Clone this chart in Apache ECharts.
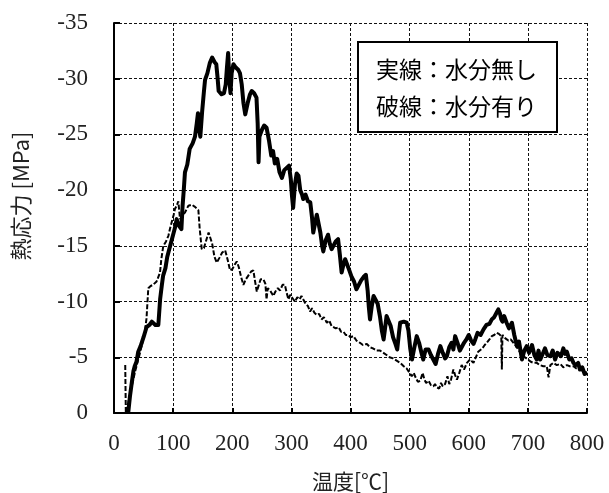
<!DOCTYPE html>
<html><head><meta charset="utf-8">
<script src="https://cdn.jsdelivr.net/npm/echarts@6/dist/echarts.min.js"></script>
<style>html,body{margin:0;padding:0;background:#fff}#c{width:609px;height:493px}</style>
</head><body><div id="c"></div>
<script>
// 実線：水分無し (temperature °C, thermal stress MPa)
const dryTemp = [24,27,30,33,35,38,41,45,50,55,60,64,70,75,77,78,81,83,87,90,92,96,100,103,106,110,114,116,118,120,124,128,133,137,140,142,144,146,149,152,154,158,162,166,170,173,175,177,182,186,189,191,193,195,197,199,202,206,210,213,216,219,222,226,230,233,237,241,243,244.5,246,250,254,258,262,266,269,272,276,280,284,288,292,296,299,301,303,306,309,312,315,318,320,324,328,332,335,337,340,343,346,349,352,354,358,362,365,368,371,375,379,382,385,388,391,394,398,402,406,410,414,418,422,426,429,431,433,436,439,442,446,450,453,456,458,461,464,468,472,476,479,482,484,490,495,498,501,504,508,512,516,520,523,527,532,536,540,544,548,552,556,560,563,567,571,574,577,581,585,588,592,596,600,604,608,611,615,620,625,630,635,639,643,647,650,653,655,657,660,664,668,673,677,681.5,685,690,694,698,702,707,711,715,718,721,725,729,733,738,742,746,750,752,756,760,763,766,770,774,777,781,785,788,792,796,800];
const dryStress = [0,-1.5,-2.7,-3.8,-4.2,-4.6,-5.5,-6.0,-6.8,-7.7,-7.9,-8.2,-7.9,-7.9,-8.0,-10.2,-11.5,-12.3,-13.0,-14.0,-14.4,-15.2,-16.0,-16.6,-17.4,-16.8,-16.5,-18.6,-20.0,-21.6,-22.3,-23.7,-24.2,-24.8,-26.0,-26.9,-25.5,-24.8,-27.0,-28.8,-29.9,-30.5,-31.4,-31.9,-31.5,-31.3,-30.2,-28.9,-28.6,-28.7,-29.5,-31.0,-32.3,-30.0,-28.7,-30.5,-31.3,-31.0,-30.8,-30.5,-29.5,-27.8,-26.8,-27.8,-28.6,-28.9,-28.7,-28.3,-26.0,-22.5,-24.8,-25.4,-25.8,-25.6,-24.5,-23.1,-23.5,-22.4,-22.8,-21.6,-21.1,-21.8,-22.0,-22.2,-21.0,-19.5,-18.4,-20.5,-21.5,-21.3,-20.0,-19.6,-19.2,-19.6,-19.0,-18.9,-17.5,-16.2,-17.0,-17.8,-17.7,-16.2,-15.0,-14.5,-15.5,-16.0,-15.2,-14.7,-14.7,-15.4,-15.6,-14.2,-12.6,-13.3,-13.8,-13.9,-12.8,-12.2,-11.8,-11.1,-11.5,-11.9,-12.2,-12.4,-11.0,-9.5,-8.4,-9.6,-10.5,-10.6,-9.8,-8.6,-7.4,-6.6,-7.4,-8.7,-8.7,-7.8,-6.8,-6.2,-5.7,-7.2,-8.1,-8.2,-8.1,-7.4,-5.8,-4.8,-5.9,-6.9,-6.3,-5.4,-4.8,-5.7,-5.7,-5.2,-4.8,-4.4,-5.3,-6.0,-5.4,-4.9,-5.1,-5.9,-6.3,-5.7,-6.9,-6.3,-5.6,-5.5,-6.3,-6.6,-7.0,-6.5,-6.2,-6.6,-7.2,-7.0,-7.5,-7.9,-8.0,-8.4,-8.6,-9.0,-9.3,-8.9,-8.4,-8.2,-8.7,-8.1,-7.6,-8.1,-7.0,-6.0,-6.4,-4.8,-5.6,-6.0,-5.4,-6.1,-5.2,-4.8,-5.6,-4.8,-5.3,-5.8,-5.2,-5.1,-5.6,-4.8,-5.4,-5.4,-5.1,-5.8,-5.3,-5.5,-4.8,-4.9,-4.5,-4.3,-4.5,-3.9,-4.1,-3.5,-3.6];
// 破線：水分有り
const wetTemp = [19,20,24,30,36,40,44,48,52,55,58,62,66,72,77.8,80,83.4,88,92,95,98,101,103,106,108.8,111.7,115,120,125.8,131.5,137,142.7,145,148.4,152,156,160,163,166,170,173.8,178,183,188,192,196.3,200,204,207.6,211,215,218.8,223,228,232,235.7,238,241.5,245,248,252.7,256,258,260,264,269.5,273,277,281,285,289,292,295,298,302,306,310,314,317,320,324,328,331.6,335,339,343,347,351,355,360,364,368,371,375,380,384,388,392,396.5,400,405,410,416,421,427.6,433,438,444,450,455.7,461,466,472,478,484,490,495,500,503.5,507,510,514,518,522,525,528,532,536,540,543,546,550,553,556,560,564,567,570,574,577,580,584,588,592,597,602,608,612,616,619,623,627,630.5,635,639,643,647.5,651,655,656,657,662,667,671,675.6,680,685,690,695,700,705,709.5,715,720,726,732,735,738,743,749,755,760,766,771,777,782,787,792,796,800];
const wetStress = [-4.3,0,-0.9,-2.4,-3.8,-4.6,-5.4,-6.3,-7.2,-8.5,-11.2,-11.4,-11.5,-11.8,-12.6,-13.8,-15.0,-15.4,-15.9,-16.6,-17.2,-17.8,-18.3,-18.6,-19.0,-17.4,-17.6,-18.0,-18.6,-18.7,-18.5,-18.2,-16.5,-14.7,-14.8,-15.5,-16.2,-16.3,-15.2,-14.0,-13.5,-13.9,-14.4,-14.6,-13.8,-12.8,-12.9,-13.3,-13.6,-13.1,-12.2,-11.5,-12.0,-12.4,-12.7,-12.8,-12.0,-10.9,-11.5,-12.0,-12.0,-11.6,-10.2,-11.2,-11.0,-10.5,-10.9,-11.2,-11.0,-11.5,-11.5,-10.8,-10.2,-10.6,-10.3,-10.0,-10.4,-10.2,-10.5,-10.4,-9.8,-9.6,-9.1,-9.4,-9.0,-8.8,-8.9,-8.4,-8.6,-8.1,-8.3,-7.8,-7.9,-7.6,-7.7,-7.3,-7.3,-7.0,-7.0,-6.8,-6.9,-6.5,-6.3,-6.1,-6.2,-5.9,-5.8,-5.6,-5.6,-5.4,-5.2,-5.0,-4.9,-4.7,-4.5,-4.2,-4.0,-3.6,-3.3,-3.6,-3.2,-2.8,-2.9,-3.6,-3.0,-2.7,-2.9,-2.5,-2.4,-2.6,-2.3,-2.2,-2.7,-2.4,-2.6,-3.3,-2.6,-3.0,-3.9,-3.4,-3.0,-3.6,-4.3,-3.9,-4.5,-4.8,-4.5,-5.0,-5.5,-5.4,-5.8,-6.1,-6.3,-6.6,-6.9,-7.0,-7.2,-7.1,-6.9,-3.9,-7.0,-6.7,-6.5,-6.6,-6.3,-6.0,-5.6,-5.1,-5.0,-4.8,-4.6,-4.5,-4.5,-4.3,-4.2,-4.2,-3.2,-4.3,-4.5,-4.3,-4.4,-4.1,-4.3,-4.2,-4.2,-4.0,-3.9,-3.8,-3.7,-3.6];
const seriesNames = ['実線：水分無し', '破線：水分有り'];
const xTitle = '温度[℃]';
const yTitle = '熱応力 [MPa]';

const zip = (a, b) => a.map((v, i) => [v, b[i]]);
const chart = echarts.init(document.getElementById('c'), null, {renderer: 'canvas'});
const serif = 'Liberation Serif';
const gothic = '"Noto Sans CJK JP", sans-serif';
chart.setOption({
  animation: false,
  backgroundColor: '#fff',
  grid: {left: 114, right: 22, top: 23, bottom: 80, containLabel: false, outerBoundsMode: 'none'},
  legend: {
    data: seriesNames,
    left: 358, top: 42,
    orient: 'vertical',
    icon: 'none', itemWidth: 0, itemHeight: 22, itemGap: 14,
    padding: [16, 20, 14, 13],
    backgroundColor: '#fff', borderColor: '#000', borderWidth: 2, borderRadius: 0,
    selectedMode: false,
    textStyle: {fontFamily: gothic, fontSize: 23, color: '#000'}
  },
  xAxis: {
    type: 'value', min: 0, max: 800, interval: 100,
    name: xTitle, nameLocation: 'middle', nameGap: 58, nameMoveOverlap: false,
    nameTextStyle: {fontFamily: gothic, fontSize: 21, color: '#222'},
    axisLine: {onZero: false, lineStyle: {color: '#000', width: 2}},
    axisTick: {inside: true, length: 5, lineStyle: {color: '#000', width: 2}},
    axisLabel: {fontFamily: serif, fontSize: 23, color: '#222', margin: 19},
    splitLine: {show: true, lineStyle: {color: '#111', width: 1, type: [3, 2]}}
  },
  yAxis: {
    type: 'value', min: -35, max: 0, interval: 5, inverse: true,
    name: yTitle, nameLocation: 'middle', nameGap: 82, nameRotate: 90, nameMoveOverlap: false,
    nameTextStyle: {fontFamily: gothic, fontSize: 22, color: '#222', padding: [0, 0, 0, 44]},
    axisLine: {onZero: false, lineStyle: {color: '#000', width: 2}},
    axisTick: {inside: true, length: 6, lineStyle: {color: '#000', width: 2}},
    axisLabel: {fontFamily: serif, fontSize: 23, color: '#222', margin: 26},
    splitLine: {show: true, lineStyle: {color: '#111', width: 1, type: [3, 2]}}
  },
  series: [
    {name: seriesNames[0], type: 'line', data: zip(dryTemp, dryStress), showSymbol: false, symbol: 'none',
     lineStyle: {color: '#000', width: 4, join: 'round'}, itemStyle: {color: '#000'}, z: 3},
    {name: seriesNames[1], type: 'line', data: zip(wetTemp, wetStress), showSymbol: false, symbol: 'none',
     lineStyle: {color: '#000', width: 2, type: [5, 2]}, itemStyle: {color: '#000'}, z: 2}
  ]
});
</script></body></html>
